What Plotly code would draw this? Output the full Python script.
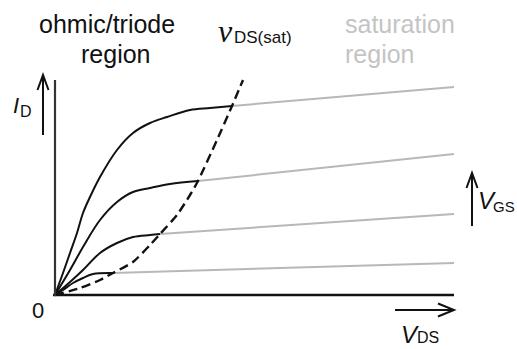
import plotly.graph_objects as go

# ---- data (V_DS, I_D in arbitrary units) ----
ohm_v1 = [0, 8, 15, 22, 28, 35, 45, 62, 78, 95, 112, 135, 155, 177]
ohm_i1 = [0, 22, 42, 62, 82, 98, 118, 145, 162, 172, 178, 185, 187, 189]
ohm_v2 = [0, 15, 28, 45, 62, 78, 95, 115, 143]
ohm_i2 = [0, 25, 48, 75, 93, 103, 107, 111, 114]
ohm_v3 = [0, 15, 28, 45, 62, 78, 95, 105]
ohm_i3 = [0, 13, 25, 42, 52, 58, 60, 61]
ohm_v4 = [0, 8, 18, 28, 38, 58]
ohm_i4 = [0, 5, 12, 17, 21, 22]

sat_v_end = 399
sat_start_v = [177, 143, 105, 58]
sat_start_i = [189, 114, 61, 22]
sat_end_i = [208, 141, 81, 32]

vsat_v = [0, 25, 45, 58, 78, 95, 105, 122, 135, 143, 162, 177, 188]
vsat_i = [0, 7, 15, 22, 33, 50, 61, 80, 100, 114, 155, 189, 215]

ohm_v = [ohm_v1, ohm_v2, ohm_v3, ohm_v4]
ohm_i = [ohm_i1, ohm_i2, ohm_i3, ohm_i4]

BLACK = "#111111"
GRAY = "#b8b8b8"
TEXTGRAY = "#c4c4c4"
SANS = "Liberation Sans, Arial, sans-serif"
SERIF = "Liberation Serif, Times New Roman, serif"

fig = go.Figure()

for vs, is_ in zip(ohm_v, ohm_i):
    fig.add_trace(go.Scatter(x=vs, y=is_, mode="lines",
                             line=dict(color=BLACK, width=2, shape="spline", smoothing=1.0),
                             hoverinfo="skip", showlegend=False))

for v0, i0, i1 in zip(sat_start_v, sat_start_i, sat_end_i):
    fig.add_trace(go.Scatter(x=[v0, sat_v_end], y=[i0, i1], mode="lines",
                             line=dict(color=GRAY, width=2),
                             hoverinfo="skip", showlegend=False))

fig.add_trace(go.Scatter(x=vsat_v, y=vsat_i, mode="lines",
                         line=dict(color=BLACK, width=2.4, dash="9px,5px",
                                   shape="spline", smoothing=0.6),
                         hoverinfo="skip", showlegend=False))

shapes = []
# axes
shapes.append(dict(type="line", xref="x", yref="y", x0=-2, y0=0, x1=399, y1=0,
                   line=dict(color=BLACK, width=2.5)))
shapes.append(dict(type="line", xref="x", yref="y", x0=0, y0=-1, x1=0, y1=215,
                   line=dict(color="#333333", width=2.2)))


def arrow(x0, y0, x1, y1, horizontal):
    shapes.append(dict(type="line", xref="x", yref="y", x0=x0, y0=y0, x1=x1, y1=y1,
                       line=dict(color=BLACK, width=2)))
    if horizontal:
        p = f"M {x1-16} {y1+6.5} L {x1} {y1} L {x1-16} {y1-6.5}"
    else:
        p = f"M {x1-5.5} {y1-15} L {x1} {y1} L {x1+5.5} {y1-15}"
    shapes.append(dict(type="path", xref="x", yref="y", path=p,
                       line=dict(color=BLACK, width=2)))


arrow(-12, 160, -12, 220, False)   # I_D arrow
arrow(417, 69, 417, 122, False)    # V_GS arrow
arrow(340, -15, 399, -15, True)    # V_DS arrow

ann = []


def txt(x, y, text, size, color=BLACK, family=SANS, xanchor="center"):
    ann.append(dict(x=x, y=y, xref="x", yref="y", text=text, showarrow=False,
                    font=dict(size=size, color=color, family=family),
                    xanchor=xanchor, yanchor="middle", borderpad=0))


txt(52, 271, "ohmic/triode", 25)
txt(61, 241, "region", 25)
txt(289, 271, "saturation", 25, color=TEXTGRAY, xanchor="left")
txt(289, 241, "region", 25, color=TEXTGRAY, xanchor="left")
txt(170, 264, "<i>v</i>", 32, family=SERIF)
txt(178, 258, "DS(sat)", 17, xanchor="left")
txt(-39, 190, "<i>I</i>", 22)
txt(-29, 183.5, "D", 16)
txt(432, 95, "<i>V</i>", 24)
txt(449, 88.5, "GS", 15)
txt(355, -39, "<i>V</i>", 24)
txt(373, -42.5, "DS", 16)
txt(-17, -15, "0", 22)

fig.update_layout(
    width=517, height=349,
    margin=dict(l=0, r=0, t=0, b=0),
    paper_bgcolor="white", plot_bgcolor="white",
    xaxis=dict(range=[-55, 462], visible=False, fixedrange=True),
    yaxis=dict(range=[-54, 295], visible=False, fixedrange=True),
    shapes=shapes, annotations=ann, showlegend=False,
)

# remove the default page margin so the 517x349 figure fills the window exactly
fig.write_html("out.html",
               config={"displayModeBar": False, "staticPlot": True},
               post_script="document.body.style.margin='0';document.body.style.overflow='hidden';")
